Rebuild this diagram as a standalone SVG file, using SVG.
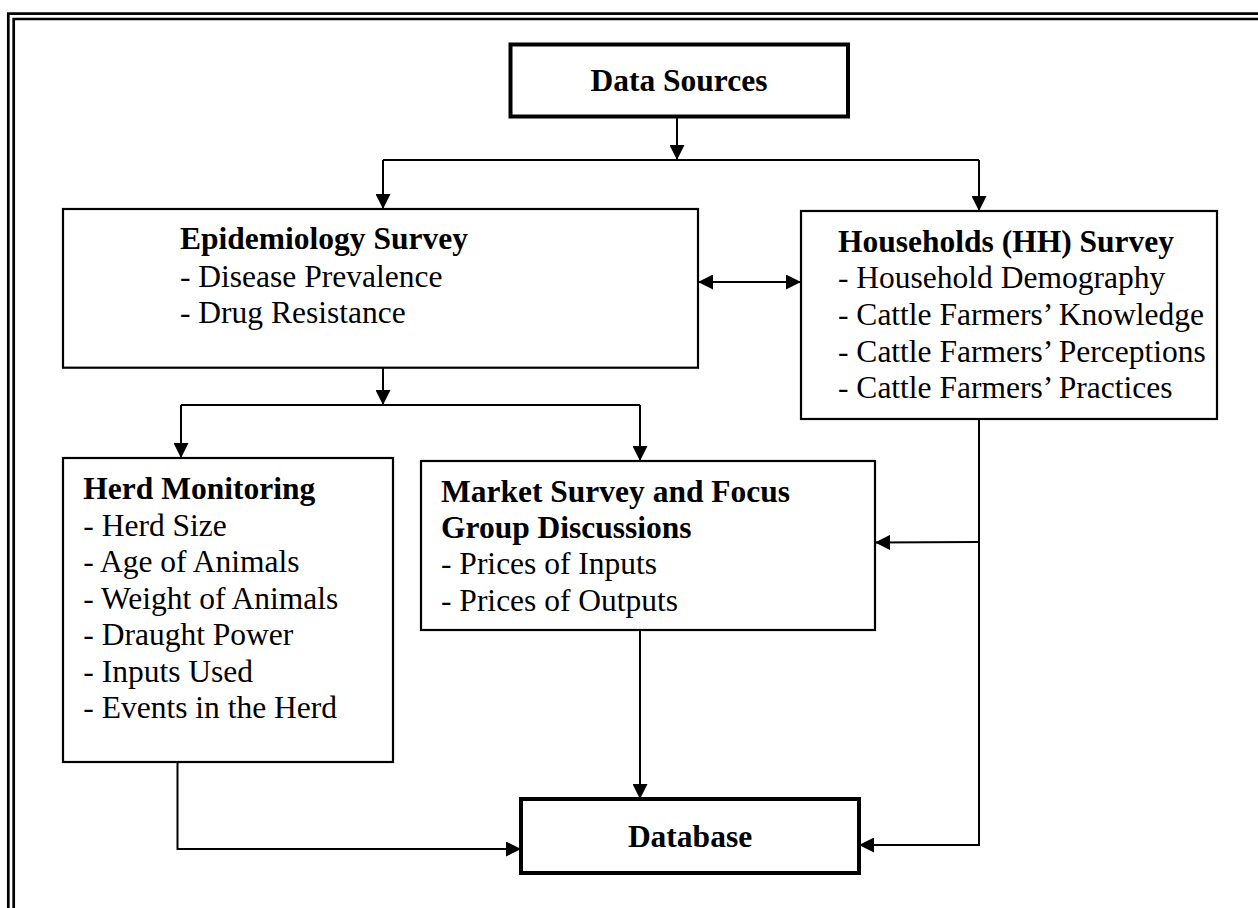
<svg xmlns="http://www.w3.org/2000/svg" width="1258" height="908" viewBox="0 0 1258 908">
<defs>
<marker id="ah" viewBox="0 0 15 15" refX="15" refY="7.5" markerWidth="15" markerHeight="15" markerUnits="userSpaceOnUse" orient="auto-start-reverse">
<path d="M0,0 L15,7.5 L0,15 Z" fill="#000"/>
</marker>
<style>
.box{fill:#fff;stroke:#000;stroke-width:2.2}
.bold{fill:#fff;stroke:#000;stroke-width:4}
.frame{fill:none;stroke:#000;stroke-width:2.7}
.c{fill:none;stroke:#000;stroke-width:2}
text{font-family:"Liberation Serif","Times New Roman",serif;font-size:31.5px;fill:#000}
.t{font-weight:bold}
</style>
</defs>
<rect width="1258" height="908" fill="#fff"/>
<g id="frame">
<path class="frame" d="M8.3,910 V13.7 H1260"/>
<path class="frame" d="M13.7,910 V19 H1260"/>
</g>
<g id="connectors">
<line class="c" x1="677" y1="117" x2="677" y2="160" marker-end="url(#ah)"/>
<path class="c" d="M383,160 H979"/>
<line class="c" x1="383" y1="160" x2="383" y2="209" marker-end="url(#ah)"/>
<line class="c" x1="979" y1="160" x2="979" y2="211" marker-end="url(#ah)"/>
<line class="c" x1="698" y1="282" x2="801" y2="282" marker-start="url(#ah)" marker-end="url(#ah)"/>
<line class="c" x1="383" y1="368" x2="383" y2="405" marker-end="url(#ah)"/>
<path class="c" d="M181,405 H640"/>
<line class="c" x1="181" y1="405" x2="181" y2="458" marker-end="url(#ah)"/>
<line class="c" x1="640" y1="405" x2="640" y2="461" marker-end="url(#ah)"/>
<path class="c" d="M979,419 V845 H859" marker-end="url(#ah)"/>
<line class="c" x1="979" y1="542" x2="875" y2="542.5" marker-end="url(#ah)"/>
<line class="c" x1="640" y1="630" x2="640" y2="799" marker-end="url(#ah)"/>
<path class="c" d="M177.5,762 V849 H521" marker-end="url(#ah)"/>
</g>
<g id="data-sources">
<rect class="bold" x="510.5" y="44.5" width="337.5" height="72"/>
<text class="t" x="679" y="91" text-anchor="middle">Data Sources</text>
</g>
<g id="epidemiology">
<rect class="box" x="63" y="209" width="635" height="158.7"/>
<text x="180" y="249.3" class="t">Epidemiology Survey</text>
<text x="180" y="286.5">- Disease Prevalence</text>
<text x="180" y="323">- Drug Resistance</text>
</g>
<g id="households">
<rect class="box" x="801" y="211" width="416" height="208"/>
<text x="838" y="251.7" class="t">Households (HH) Survey</text>
<text x="838" y="288.4">- Household Demography</text>
<text x="838" y="325">- Cattle Farmers’ Knowledge</text>
<text x="838" y="361.7">- Cattle Farmers’ Perceptions</text>
<text x="838" y="398.4">- Cattle Farmers’ Practices</text>
</g>
<g id="herd">
<rect class="box" x="63" y="458" width="330" height="304"/>
<text x="83.3" y="499" class="t">Herd Monitoring</text>
<text x="83.3" y="535.5">- Herd Size</text>
<text x="83.3" y="572">- Age of Animals</text>
<text x="83.3" y="608.5">- Weight of Animals</text>
<text x="83.3" y="645">- Draught Power</text>
<text x="83.3" y="681.7">- Inputs Used</text>
<text x="83.3" y="718">- Events in the Herd</text>
</g>
<g id="market">
<rect class="box" x="421" y="461" width="454" height="169"/>
<text x="441" y="501.5" class="t">Market Survey and Focus</text>
<text x="441" y="537.5" class="t">Group Discussions</text>
<text x="441" y="574">- Prices of Inputs</text>
<text x="441" y="610.5">- Prices of Outputs</text>
</g>
<g id="database">
<rect class="bold" x="521" y="799" width="338" height="74"/>
<text class="t" x="690" y="847" text-anchor="middle">Database</text>
</g>
</svg>
